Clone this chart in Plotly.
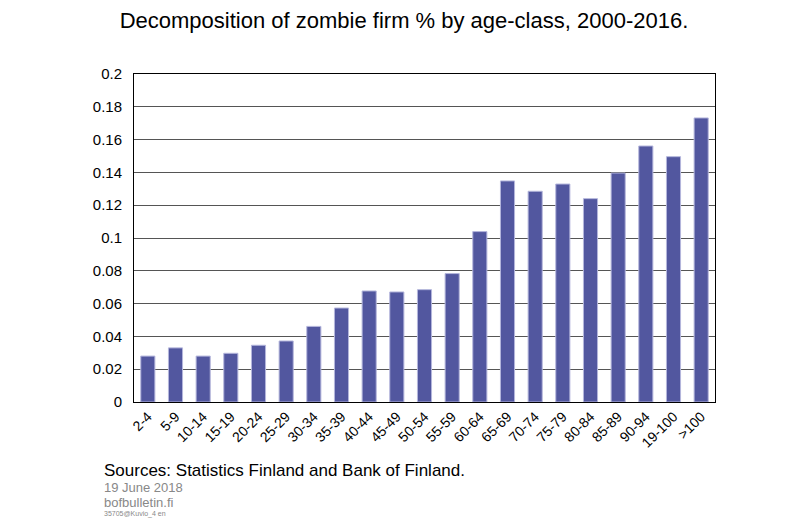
import plotly.graph_objects as go

# Age classes and zombie firm shares
age_classes = ['2-4', '5-9', '10-14', '15-19', '20-24', '25-29', '30-34', '35-39',
               '40-44', '45-49', '50-54', '55-59', '60-64', '65-69', '70-74', '75-79',
               '80-84', '85-89', '90-94', '19-100', '>100']
zombie_share = [0.028, 0.033, 0.028, 0.0297, 0.0346, 0.0372, 0.0461, 0.0573,
                0.0677, 0.0671, 0.0685, 0.0783, 0.1039, 0.1348, 0.1285, 0.1329,
                0.124, 0.1396, 0.1561, 0.1496, 0.1732]
y_ticks = [0, 0.02, 0.04, 0.06, 0.08, 0.1, 0.12, 0.14, 0.16, 0.18, 0.2]

font = 'Arial, Liberation Sans, sans-serif'

# page puts the figure 8px in from the top-left, so size/margins are offset by that
W, H = 792, 515
L, R, T, B = 126, 85, 66, 121
ph = H - T - B
pw = W - L - R

fig = go.Figure()
fig.add_trace(go.Bar(x=age_classes, y=zombie_share,
                     marker=dict(color='#52579f', line=dict(color='#b4b6dc', width=1))))

fig.update_layout(
    width=W, height=H,
    margin=dict(l=L, r=R, t=T, b=B),
    paper_bgcolor='white', plot_bgcolor='white',
    bargap=0.49, showlegend=False,
    font=dict(family=font, color='black'),
    title=dict(text='Decomposition of zombie firm % by age-class, 2000-2016.',
               x=0.5, xanchor='center', y=1 - 12 / H, yanchor='middle',
               font=dict(size=22, family=font, color='black')),
)
fig.update_xaxes(tickangle=-45, tickfont=dict(size=14), showline=True,
                 linecolor='black', linewidth=1, mirror=True, ticks='')
fig.update_yaxes(range=[0, 0.2], tickvals=y_ticks, ticktext=[f'{v:g}' for v in y_ticks],
                 tickfont=dict(size=15), showline=True, linecolor='black', linewidth=1,
                 mirror=True, showgrid=True, gridcolor='#555555', gridwidth=1,
                 zeroline=False, ticks='outside', ticklen=8, tickcolor='white')

# footer notes (page y of text centre)
notes = [('Sources: Statistics Finland and Bank of Finland.', 470, 17, 'black'),
         ('19 June 2018', 487, 13, '#888888'),
         ('bofbulletin.fi', 502, 13, '#888888'),
         ('35705@Kuvio_4 en', 514, 7, '#888888')]
for txt, ypix, size, col in notes:
    fig.add_annotation(text=txt, xref='paper', yref='paper',
                       x=(102 - 8 - L) / pw, y=(H - B - (ypix - 8)) / ph,
                       xanchor='left', yanchor='middle', showarrow=False,
                       font=dict(size=size, color=col, family=font))

fig.write_html("out.html")
